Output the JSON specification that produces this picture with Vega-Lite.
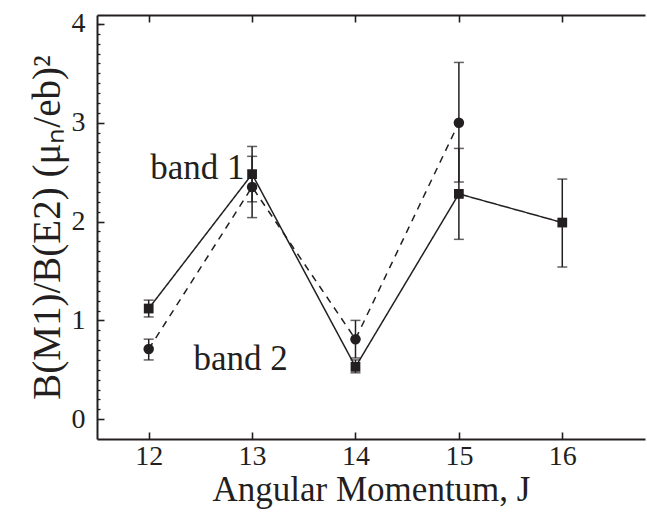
{
  "$schema": "https://vega.github.io/schema/vega-lite/v6.json",
  "autosize": "none",
  "width": 548,
  "height": 424,
  "padding": {"left": 97, "top": 15, "right": 2, "bottom": 74},
  "background": "white",
  "config": {
    "view": {"stroke": null},
    "font": "Liberation Serif",
    "axis": {
      "domainColor": "#231f20",
      "domainWidth": 2,
      "tickColor": "#231f20",
      "tickWidth": 1.6,
      "labelColor": "#231f20",
      "titleColor": "#231f20",
      "labelFont": "Liberation Serif",
      "titleFont": "Liberation Serif",
      "labelFontWeight": "normal",
      "titleFontWeight": "normal",
      "grid": false
    }
  },
  "datasets": {
    "ratios": [
      {"J": 12, "band": "band 1", "value": 1.12, "lo": 1.035, "hi": 1.205},
      {"J": 13, "band": "band 1", "value": 2.48, "lo": 2.2, "hi": 2.76},
      {"J": 14, "band": "band 1", "value": 0.53, "lo": 0.47, "hi": 0.6},
      {"J": 15, "band": "band 1", "value": 2.28, "lo": 1.82, "hi": 2.74},
      {"J": 16, "band": "band 1", "value": 1.99, "lo": 1.54, "hi": 2.43},
      {"J": 12, "band": "band 2", "value": 0.71, "lo": 0.6, "hi": 0.81},
      {"J": 13, "band": "band 2", "value": 2.35, "lo": 2.04, "hi": 2.66},
      {"J": 14, "band": "band 2", "value": 0.81, "lo": 0.62, "hi": 1.0},
      {"J": 15, "band": "band 2", "value": 3.0, "lo": 2.4, "hi": 3.61}
    ],
    "tags": [
      {"J": 12.47, "value": 2.43, "text": "band 1"},
      {"J": 12.89, "value": 0.5, "text": "band 2"}
    ]
  },
  "layer": [
    {
      "data": {"name": "ratios"},
      "encoding": {
        "x": {
          "field": "J",
          "type": "quantitative",
          "scale": {"domain": [11.5, 16.8], "nice": false, "zero": false},
          "axis": {
            "orient": "bottom",
            "values": [12, 13, 14, 15, 16],
            "ticks": false,
            "labelFontSize": 28,
            "labelPadding": 3,
            "labelFlush": false,
            "title": "Angular Momentum, J",
            "titleFontSize": 35,
            "titlePadding": 2
          }
        },
        "y": {
          "field": "value",
          "type": "quantitative",
          "scale": {"domain": [-0.2, 4.09], "nice": false, "zero": false},
          "axis": {
            "orient": "left",
            "values": [0, 1, 2, 3, 4],
            "ticks": false,
            "labelFontSize": 28,
            "labelPadding": 12,
            "labelFlush": false,
            "title": "B(M1)/B(E2) (μₙ/eb)²",
            "titleFontSize": 39,
            "titlePadding": 4
          }
        }
      },
      "layer": [
        {
          "mark": {"type": "rule", "color": "#231f20", "strokeWidth": 1.5},
          "encoding": {"y": {"field": "lo", "type": "quantitative"}, "y2": {"field": "hi"}}
        },
        {
          "mark": {"type": "tick", "orient": "horizontal", "color": "#231f20", "size": 10, "thickness": 1.5},
          "encoding": {"y": {"field": "lo", "type": "quantitative"}}
        },
        {
          "mark": {"type": "tick", "orient": "horizontal", "color": "#231f20", "size": 10, "thickness": 1.5},
          "encoding": {"y": {"field": "hi", "type": "quantitative"}}
        },
        {
          "mark": {"type": "line", "color": "#231f20", "strokeWidth": 1.5},
          "encoding": {
            "detail": {"field": "band"},
            "strokeDash": {
              "field": "band",
              "type": "nominal",
              "scale": {"domain": ["band 1", "band 2"], "range": [[1, 0], [7, 6]]},
              "legend": null
            }
          }
        },
        {
          "mark": {"type": "point", "filled": true, "opacity": 1, "color": "#231f20"},
          "encoding": {
            "shape": {
              "field": "band",
              "type": "nominal",
              "scale": {"domain": ["band 1", "band 2"], "range": ["square", "circle"]},
              "legend": null
            },
            "size": {
              "field": "band",
              "type": "nominal",
              "scale": {"domain": ["band 1", "band 2"], "range": [95, 110]},
              "legend": null
            }
          }
        },
        {
          "data": {"name": "tags"},
          "mark": {"type": "text", "font": "Liberation Serif", "fontSize": 35, "color": "#231f20", "align": "center", "baseline": "alphabetic"},
          "encoding": {"text": {"field": "text"}}
        }
      ]
    },
    {
      "description": "inward ticks along the bottom edge",
      "data": {"name": "tags"},
      "mark": {"type": "point", "opacity": 0},
      "encoding": {
        "x": {
          "field": "J",
          "type": "quantitative",
          "axis": {"orient": "bottom", "offset": -7, "values": [12, 13, 14, 15, 16], "ticks": true, "tickSize": 7, "tickColor": "#231f20", "tickWidth": 1.6, "domain": false, "labels": false, "title": null}
        }
      }
    },
    {
      "description": "top frame line",
      "data": {"name": "tags"},
      "mark": {"type": "point", "opacity": 0},
      "encoding": {
        "x": {
          "field": "J",
          "type": "quantitative",
          "axis": {"orient": "top", "ticks": false, "labels": false, "title": null}
        }
      }
    },
    {
      "description": "inward ticks along the top edge",
      "data": {"name": "tags"},
      "mark": {"type": "point", "opacity": 0},
      "encoding": {
        "x": {
          "field": "J",
          "type": "quantitative",
          "axis": {"orient": "top", "offset": -7, "values": [12, 13, 14, 15, 16], "ticks": true, "tickSize": 7, "tickColor": "#231f20", "tickWidth": 1.6, "domain": false, "labels": false, "title": null}
        }
      }
    },
    {
      "description": "major inward ticks on the left edge",
      "data": {"name": "tags"},
      "mark": {"type": "point", "opacity": 0},
      "encoding": {
        "y": {
          "field": "value",
          "type": "quantitative",
          "axis": {"orient": "left", "offset": -7, "values": [0, 1, 2, 3, 4], "ticks": true, "tickSize": 7, "tickColor": "#231f20", "tickWidth": 1.6, "domain": false, "labels": false, "title": null}
        }
      }
    },
    {
      "description": "minor inward ticks on the left edge",
      "data": {"name": "tags"},
      "mark": {"type": "point", "opacity": 0},
      "encoding": {
        "y": {
          "field": "value",
          "type": "quantitative",
          "axis": {
            "orient": "left",
            "offset": -3,
            "values": [0.1, 0.2, 0.3, 0.4, 0.5, 0.6, 0.7, 0.8, 0.9, 1.1, 1.2, 1.3, 1.4, 1.5, 1.6, 1.7, 1.8, 1.9, 2.1, 2.2, 2.3, 2.4, 2.5, 2.6, 2.7, 2.8, 2.9, 3.1, 3.2, 3.3, 3.4, 3.5, 3.6, 3.7, 3.8, 3.9, 4.0],
            "ticks": true,
            "tickSize": 3,
            "tickColor": "#231f20",
            "tickWidth": 1.3,
            "domain": false,
            "labels": false,
            "title": null
          }
        }
      }
    }
  ],
  "resolve": {"axis": {"x": "independent", "y": "independent"}}
}
